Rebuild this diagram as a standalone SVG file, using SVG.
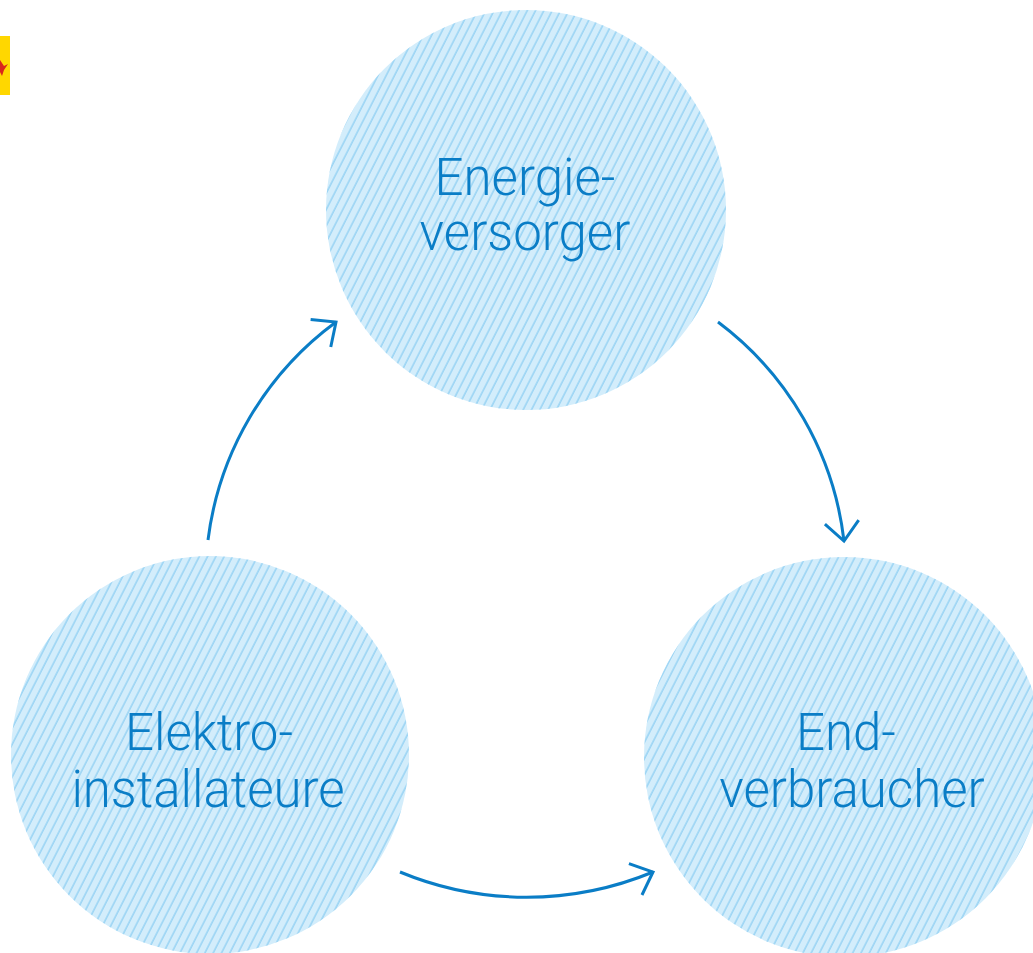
<svg xmlns="http://www.w3.org/2000/svg" width="1033" height="953" viewBox="0 0 1033 953">
  <defs>
    <style>
      .node-bg { fill: #d3edfb; }
      .node-hatch { fill: url(#hatch); }
      .label { font-family: "Roboto", "Liberation Sans", sans-serif; font-weight: 300; font-size: 51px; fill: #0a7dc6; text-anchor: middle; }
      .flow { fill: none; stroke: #0a7dc6; stroke-width: 3; stroke-linecap: butt; }
    </style>
    <!-- diagonal hatching laid over the node fill -->
    <pattern id="hatch" patternUnits="userSpaceOnUse" width="7.4" height="20" patternTransform="rotate(27)">
      <line x1="1" y1="0" x2="1" y2="20" stroke="#8ecff2" stroke-width="1.3"/>
    </pattern>
    <!-- open chevron arrowhead -->
    <marker id="chevron" markerUnits="userSpaceOnUse" viewBox="-30 -20 34 40" markerWidth="34" markerHeight="40" refX="0" refY="0" orient="auto">
      <path d="M-19,-17 L0,0 L-19,17" fill="none" stroke="#0a7dc6" stroke-width="3" stroke-linejoin="miter"/>
    </marker>
  </defs>

  <!-- corner tab -->
  <rect x="0" y="36" width="10" height="59" fill="#ffd700"/>
  <path d="M0,60 L4,66 L8,64 L4,70 L2,76 L0,72 Z" fill="#d9261c"/>

  <!-- nodes -->
  <g id="energieversorger">
    <circle class="node-bg" cx="526" cy="210" r="200"/>
    <circle class="node-hatch" cx="526" cy="210" r="200"/>
    <text class="label" x="525" y="195">Energie-</text>
    <text class="label" x="525" y="250">versorger</text>
  </g>
  <g id="elektroinstallateure">
    <circle class="node-bg" cx="210" cy="755" r="199"/>
    <circle class="node-hatch" cx="210" cy="755" r="199"/>
    <text class="label" x="209" y="750">Elektro-</text>
    <text class="label" x="208" y="807">installateure</text>
  </g>
  <g id="endverbraucher">
    <circle class="node-bg" cx="844" cy="757" r="200"/>
    <circle class="node-hatch" cx="844" cy="757" r="200"/>
    <text class="label" x="846" y="750">End-</text>
    <text class="label" x="852" y="807">verbraucher</text>
  </g>

  <!-- connectors -->
  <g id="connectors">
    <path class="flow" d="M208,540 A320,320 0 0 1 336,322" marker-end="url(#chevron)"/>
    <path class="flow" d="M718,322 A320,320 0 0 1 844,541" marker-end="url(#chevron)"/>
    <path class="flow" d="M400,872 A330,330 0 0 0 653,872" marker-end="url(#chevron)"/>
  </g>
</svg>
